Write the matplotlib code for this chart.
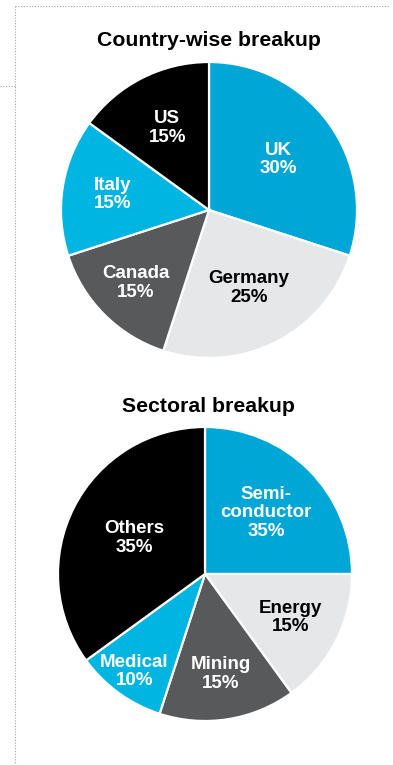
import numpy as np
import matplotlib
matplotlib.use("Agg")
import matplotlib.pyplot as plt
from matplotlib.lines import Line2D

plt.rcParams['font.family'] = ['Liberation Sans', 'DejaVu Sans']

W, H = 393, 765

# ---- data ----
country_names = ["UK", "Germany", "Canada", "Italy", "US"]
country_share = [30, 25, 15, 15, 15]
country_text = ["30%", "25%", "15%", "15%", "15%"]

sector_names = ["Semi-\nconductor", "Energy", "Mining", "Medical", "Others"]
# slice sizes as drawn in the picture (semiconductor slice is a quarter)
sector_share = [25, 15, 15, 10, 35]
sector_text = ["35%", "15%", "15%", "10%", "35%"]

# ---- styles ----
country_colors = ["#00a6d6", "#e6e7e8", "#58595b", "#00b5e2", "#000000"]
country_txt_col = ["white", "black", "white", "white", "white"]
country_lab_r = [0.58, 0.59, 0.70, 0.66, 0.62]

sector_colors = ["#00a6d6", "#e6e7e8", "#58595b", "#00b5e2", "#000000"]
sector_txt_col = ["white", "black", "white", "white", "white"]
sector_lab_r = [0.59, 0.65, 0.69, 0.82, 0.54]

fig = plt.figure(figsize=(W / 100, H / 100), dpi=100)


def px_axes(cx, cy, r):
    s = 2.5 * r
    return fig.add_axes([(cx - s / 2) / W, (H - cy - s / 2) / H, s / W, s / H])


def draw_pie(cx, cy, r, shares, names, texts, colors, tcols, lab_r):
    ax = px_axes(cx, cy, r)
    wedges, _ = ax.pie(shares, colors=colors, startangle=90, counterclock=False,
                       wedgeprops=dict(edgecolor="white", linewidth=1.6))
    ax.set_aspect("equal")
    for w, n, t, c, lr in zip(wedges, names, texts, tcols, lab_r):
        mid = np.deg2rad((w.theta1 + w.theta2) / 2)
        ax.text(lr * np.cos(mid), lr * np.sin(mid), n + "\n" + t, color=c,
                ha="center", va="center", fontsize=13.5, fontweight="bold",
                linespacing=1.12)
    return ax


draw_pie(209, 210, 148, country_share, country_names, country_text,
         country_colors, country_txt_col, country_lab_r)
draw_pie(205, 574, 147, sector_share, sector_names, sector_text,
         sector_colors, sector_txt_col, sector_lab_r)

fig.text(208.5 / W, 1 - 40 / H, "Country-wise breakup", ha="center", va="center",
         fontsize=15.3, fontweight="bold")
fig.text(208 / W, 1 - 406 / H, "Sectoral breakup", ha="center", va="center",
         fontsize=15.3, fontweight="bold")

# dotted frame lines
dot = dict(color="#a0a0a0", linestyle=(0, (1, 1.5)), linewidth=0.8)
fig.add_artist(Line2D([15 / W, 390 / W], [1 - 6 / H, 1 - 6 / H], **dot))
fig.add_artist(Line2D([15 / W, 15 / W], [1 - 6 / H, 0], **dot))
fig.add_artist(Line2D([0, 15 / W], [1 - 86 / H, 1 - 86 / H], **dot))

fig.savefig("out.png", dpi=100)
